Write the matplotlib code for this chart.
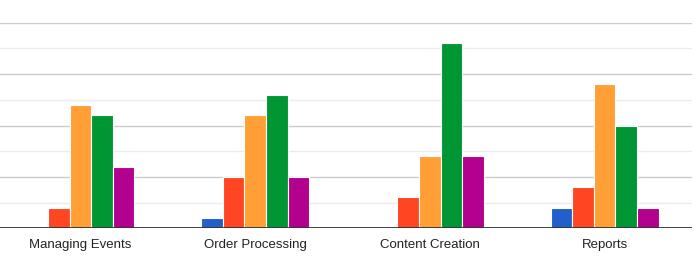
import numpy as np
import matplotlib
matplotlib.use("Agg")
import matplotlib.pyplot as plt

categories = ["Managing Events", "Order Processing", "Content Creation", "Reports"]
blue = [0, 1, 0, 2]
red = [2, 5, 3, 4]
orange = [12, 11, 7, 14]
green = [11, 13, 18, 10]
purple = [6, 5, 7, 2]

series = [blue, red, orange, green, purple]
colors = ["#2060c8", "#ff4522", "#ff9f36", "#009634", "#b3008f"]

plt.rcParams['font.family'] = ['Liberation Sans', 'DejaVu Sans']

fig = plt.figure(figsize=(6.95, 2.71), dpi=100)
# axes box in pixels: x 0..692, y 22.7..228.3
ax = fig.add_axes([0, 1 - 228.3 / 271, 692 / 695, (228.3 - 22.7) / 271])

x = np.arange(len(categories))
w = 0.1236
for k, (vals, c) in enumerate(zip(series, colors)):
    ax.bar(x + (k - 2) * w, vals, width=w, color=c, edgecolor="white",
           linewidth=0.8, zorder=3)

step = 2.5  # value per gridline
ax.set_ylim(0, 8 * step)
ax.set_xlim(-0.46, 3.5)
for i in range(1, 9):
    col = "#cccccc" if i % 2 == 0 else "#ebebeb"
    ax.axhline(i * step, color=col, linewidth=1, zorder=1)
ax.axhline(0, color="#333333", linewidth=1.3, zorder=4)

ax.set_yticks([])
ax.set_xticks(x)
ax.set_xticklabels(categories, fontsize=9.5, color="#222222")
ax.tick_params(axis="x", length=0, pad=8)
for s in ax.spines.values():
    s.set_visible(False)

fig.savefig("out.png", dpi=100)
